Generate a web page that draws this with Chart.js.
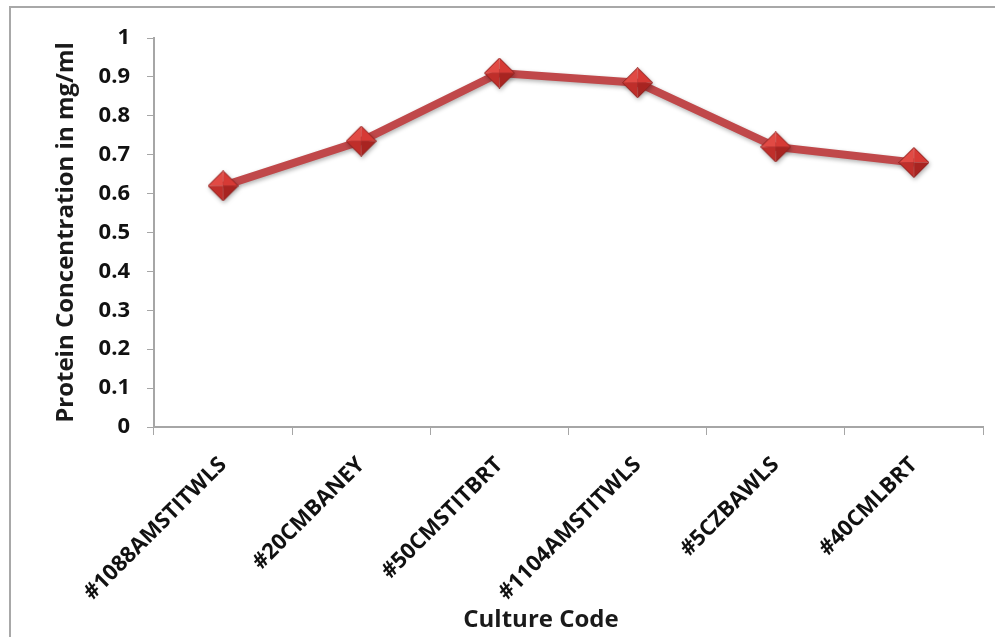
<!DOCTYPE html>
<html>
<head>
<meta charset="utf-8">
<script src="https://cdn.jsdelivr.net/npm/chart.js@4.4.1/dist/chart.umd.min.js"></script>
<style>
  html, body { margin: 0; padding: 0; background: #fff; overflow: hidden; }
  #frame {
    position: absolute; left: 9px; top: 6px; width: 990px; height: 635px;
    border-left: 2px solid #a8a8a8; border-top: 2px solid #a8a8a8;
  }
  #wrap { position: absolute; left: 0; top: 0; width: 995px; height: 637px; }
</style>
</head>
<body>
<div id="frame"></div>
<div id="wrap"><canvas id="myChart"></canvas></div>
<script>
"use strict";

let cultureCodes = ['#1088AMSTITWLS', '#20CMBANEY', '#50CMSTITBRT', '#1104AMSTITWLS', '#5CZBAWLS', '#40CMLBRT'];
let proteinConc = [0.62, 0.735, 0.91, 0.885, 0.72, 0.68];
let yTicks = [0, 0.1, 0.2, 0.3, 0.4, 0.5, 0.6, 0.7, 0.8, 0.9, 1];
let xTitle = 'Culture Code';
let yTitle = 'Protein Concentration in mg/ml';

let fontName = "'Open Sans', Lato, sans-serif";
let axisGrey = '#a6a6a6';

// bevelled diamond marker, four shaded faces
function makeMarker(size) {
  let c = document.createElement('canvas');
  c.width = size;
  c.height = size;
  let g = c.getContext('2d');
  let m = size / 2;
  let faces = [
    [[m, 0], [0, m], '#e14a44'],
    [[m, 0], [size, m], '#d63a35'],
    [[0, m], [m, size], '#bf2e2a'],
    [[size, m], [m, size], '#a82421']
  ];
  faces.forEach(f => {
    g.beginPath();
    g.moveTo(m, m);
    g.lineTo(f[0][0], f[0][1]);
    g.lineTo(f[1][0], f[1][1]);
    g.closePath();
    g.fillStyle = f[2];
    g.fill();
  });
  g.beginPath();
  g.moveTo(m, 0.5);
  g.lineTo(size - 0.5, m);
  g.lineTo(m, size - 0.5);
  g.lineTo(0.5, m);
  g.closePath();
  g.strokeStyle = '#8e2220';
  g.lineWidth = 1;
  g.stroke();
  return c;
}

// soft drop shadow under line and markers
let shadowPlugin = {
  id: 'shadow',
  beforeDatasetsDraw(chart) {
    let ctx = chart.ctx;
    ctx.save();
    ctx.shadowColor = 'rgba(0, 0, 0, 0.3)';
    ctx.shadowBlur = 4;
    ctx.shadowOffsetX = 1;
    ctx.shadowOffsetY = 2;
  },
  afterDatasetsDraw(chart) {
    chart.ctx.restore();
  }
};

// x axis title sits a bit left of the plot centre in the original
let xTitlePlugin = {
  id: 'xTitle',
  afterDraw(chart) {
    let ctx = chart.ctx;
    ctx.save();
    ctx.font = `bold 24px ${fontName}`;
    ctx.fillStyle = '#1a1a1a';
    ctx.textAlign = 'center';
    ctx.textBaseline = 'middle';
    ctx.fillText(xTitle, chart.chartArea.left + 387, 620);
    ctx.restore();
  }
};

let chartObject = {
  type: 'line',
  data: {
    labels: cultureCodes,
    datasets: [{
      label: 'Protein Concentration',
      data: proteinConc,
      borderColor: '#c0484a',
      borderWidth: 8,
      backgroundColor: '#d33b36',
      pointStyle: makeMarker(31),
      pointRadius: 15,
      pointHoverRadius: 15,
      tension: 0
    }]
  },
  options: {
    responsive: true,
    maintainAspectRatio: false,
    animation: false,
    layout: { autoPadding: false, padding: { left: 52, right: 12, top: 38, bottom: 0 } },
    plugins: {
      legend: { display: false },
      tooltip: { enabled: false }
    },
    scales: {
      x: {
        offset: true,
        afterFit(scale) {
          scale.height = 210;
          scale.paddingLeft = 0;
          scale.paddingRight = 0;
        },
        grid: { display: true, offset: true, drawOnChartArea: false, tickLength: 8, color: axisGrey },
        border: { color: axisGrey, width: 2 },
        ticks: {
          minRotation: 45,
          maxRotation: 45,
          color: '#111',
          padding: 17,
          font: { family: fontName, size: 22, weight: 'bold' }
        }
      },
      y: {
        min: 0,
        max: 1,
        afterFit(scale) { scale.width = 102; },
        afterBuildTicks(scale) {
          scale.ticks = yTicks.map(v => ({ value: v }));
        },
        grid: { display: true, drawOnChartArea: false, tickLength: 7, color: axisGrey },
        border: { color: axisGrey, width: 2 },
        ticks: {
          color: '#111',
          padding: 17,
          font: { family: fontName, size: 22, weight: 'bold' },
          callback: v => String(v)
        },
        title: {
          display: true,
          text: yTitle,
          color: '#1a1a1a',
          padding: { top: 0, bottom: 0 },
          font: { family: fontName, size: 24, weight: 'bold' }
        }
      }
    }
  },
  plugins: [shadowPlugin, xTitlePlugin]
};

let ctx = document.getElementById('myChart').getContext('2d');
let myChart = new Chart(ctx, chartObject);
</script>
</body>
</html>
